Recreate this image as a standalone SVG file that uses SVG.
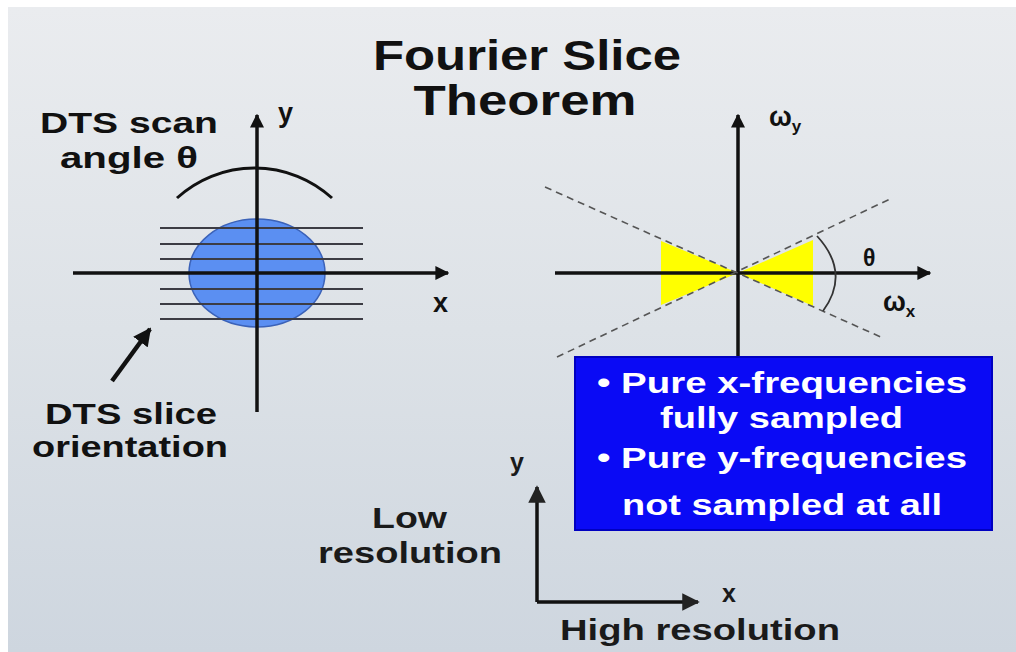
<svg xmlns="http://www.w3.org/2000/svg" width="1016" height="652" viewBox="0 0 1016 652">
<defs>
<linearGradient id="bg" x1="0" y1="0" x2="0" y2="1">
<stop offset="0" stop-color="#eaecef"/>
<stop offset="0.5" stop-color="#dde2e7"/>
<stop offset="1" stop-color="#ced6df"/>
</linearGradient>
<marker id="ah" viewBox="0 0 10 10" refX="9" refY="5" markerWidth="4" markerHeight="4" orient="auto" markerUnits="strokeWidth">
<path d="M0,0 L10,5 L0,10 z" fill="#111"/>
</marker>
<marker id="ahs" viewBox="0 0 10 10" refX="9" refY="5" markerWidth="5" markerHeight="5" orient="auto" markerUnits="strokeWidth">
<path d="M0,0 L10,5 L0,10 z" fill="#222"/>
</marker>
</defs>
<style>
.t{font-family:"Liberation Sans",Arial,sans-serif;font-weight:bold;fill:#111}
.lab{font-family:"Liberation Sans",Arial,sans-serif;font-weight:bold;fill:#1a1a1a}
.w{font-family:"Liberation Sans",Arial,sans-serif;font-weight:bold;fill:#fff}
.ax{stroke:#111;stroke-width:3.5;fill:none}
.slice{stroke:#3c3c44;stroke-width:2;fill:none}
.dash{stroke:#555;stroke-width:1.6;stroke-dasharray:7 5;fill:none}
</style>
<rect x="0" y="0" width="1016" height="652" fill="#fff"/>
<rect x="8" y="7" width="1008" height="645" fill="url(#bg)"/>

<g id="title">
<text class="t" x="527" y="70" font-size="43" text-anchor="middle" textLength="308" lengthAdjust="spacingAndGlyphs">Fourier Slice</text>
<text class="t" x="525" y="115" font-size="43" text-anchor="middle" textLength="223" lengthAdjust="spacingAndGlyphs">Theorem</text>
</g>

<g id="left-labels">
<text class="t" x="40" y="133" font-size="29" textLength="178" lengthAdjust="spacingAndGlyphs">DTS scan</text>
<text class="t" x="60" y="168" font-size="29" textLength="138" lengthAdjust="spacingAndGlyphs">angle θ</text>
<text class="t" x="45" y="424" font-size="29" textLength="172" lengthAdjust="spacingAndGlyphs">DTS slice</text>
<text class="t" x="32" y="457" font-size="29" textLength="196" lengthAdjust="spacingAndGlyphs">orientation</text>
</g>

<g id="object">
<ellipse cx="257" cy="273" rx="68" ry="54" fill="#5b8ff2" stroke="#3b62b8" stroke-width="1.5"/>
<line class="slice" x1="160" y1="228" x2="363" y2="228"/>
<line class="slice" x1="160" y1="244" x2="363" y2="244"/>
<line class="slice" x1="160" y1="259" x2="363" y2="259"/>
<line class="slice" x1="160" y1="289" x2="363" y2="289"/>
<line class="slice" x1="160" y1="304" x2="363" y2="304"/>
<line class="slice" x1="160" y1="319" x2="363" y2="319"/>
</g>

<g id="connectors">
<line class="ax" x1="73" y1="273" x2="448" y2="273" marker-end="url(#ah)"/>
<line class="ax" x1="257" y1="412" x2="257" y2="115" marker-end="url(#ah)"/>
<path d="M177,198 A115,115 0 0 1 332,198" stroke="#111" stroke-width="3" fill="none"/>
<line x1="112" y1="381" x2="150" y2="329" stroke="#111" stroke-width="4.5" marker-end="url(#ah)"/>

<polygon points="661,241 738,273 661,305" fill="#ffff00"/>
<polygon points="813,240 738,273 813,306" fill="#ffff00"/>
<line class="ax" x1="555" y1="273" x2="930" y2="273" marker-end="url(#ah)"/>
<line class="ax" x1="738" y1="357" x2="738" y2="115" marker-end="url(#ah)"/>
<line class="dash" x1="545" y1="187" x2="883" y2="338"/>
<line class="dash" x1="557" y1="357" x2="890" y2="199"/>
<path d="M817,236 Q851,273 823,311" stroke="#333" stroke-width="1.8" fill="none"/>

<line class="ax" x1="537" y1="602" x2="537" y2="487" stroke-width="3" marker-end="url(#ahs)"/>
<line class="ax" x1="537" y1="602" x2="698" y2="602" stroke-width="3" marker-end="url(#ahs)"/>
</g>

<g id="axis-labels">
<text class="t" x="278" y="122" font-size="27">y</text>
<text class="t" x="433" y="312" font-size="27">x</text>
<text class="t" x="769" y="126" font-size="27">ω<tspan font-size="17" dy="6">y</tspan></text>
<text class="t" x="863" y="266" font-size="23">θ</text>
<text class="t" x="883" y="311" font-size="27">ω<tspan font-size="17" dy="6">x</tspan></text>
</g>

<g id="info-box">
<rect x="575" y="357" width="417" height="173" fill="#0a0af5" stroke="#0000c0" stroke-width="2"/>
<text class="w" x="597" y="393" font-size="29" textLength="370" lengthAdjust="spacingAndGlyphs">• Pure x-frequencies</text>
<text class="w" x="660" y="428" font-size="29" textLength="243" lengthAdjust="spacingAndGlyphs">fully sampled</text>
<text class="w" x="597" y="468" font-size="29" textLength="370" lengthAdjust="spacingAndGlyphs">• Pure y-frequencies</text>
<text class="w" x="622" y="515" font-size="29" textLength="320" lengthAdjust="spacingAndGlyphs">not sampled at all</text>
</g>

<g id="resolution-axes">
<text class="lab" x="510" y="471" font-size="25">y</text>
<text class="lab" x="722" y="602" font-size="25">x</text>
<text class="lab" x="372" y="528" font-size="29" textLength="75" lengthAdjust="spacingAndGlyphs">Low</text>
<text class="lab" x="318" y="563" font-size="29" textLength="184" lengthAdjust="spacingAndGlyphs">resolution</text>
<text class="lab" x="560" y="640" font-size="29" textLength="280" lengthAdjust="spacingAndGlyphs">High resolution</text>
</g>
</svg>
